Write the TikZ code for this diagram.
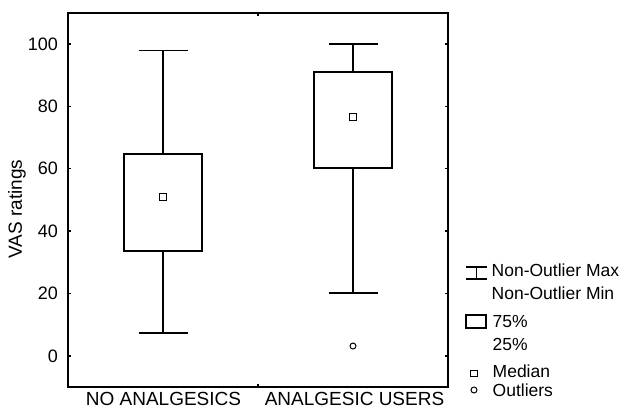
\documentclass[tikz,border=0pt]{standalone}
\usepackage{fontspec}
\setmainfont{Liberation Sans}

\begin{document}
\begin{tikzpicture}[x=1pt,y=1pt,
            frame/.style={line width=1.8pt},
            boxline/.style={line width=1.4pt},
            tick/.style={font=\fontsize{18}{20}\selectfont,anchor=east,inner sep=0pt},
            cat/.style={font=\fontsize{19}{22}\selectfont,anchor=base,inner sep=0pt},
            leg/.style={font=\fontsize{17.5}{20}\selectfont,anchor=base west,inner sep=0pt},
            med/.style={draw,rectangle,line width=1.2pt,minimum size=6.5pt,inner sep=0pt},
            outl/.style={draw,circle,line width=1pt,minimum size=6pt,inner sep=0pt}]
            \useasboundingbox (0,0) rectangle (622,410);

            % the plot, in data units
            \begin{scope}[shift={(-27,54)},x=190pt,y=3.12pt]
            \draw[frame] (0.5,-10) rectangle (2.5,110);
            \foreach \v in {0,20,...,100} {
                \draw[boxline] (0.5,\v) -- ++(3pt,0);
                \draw[boxline] (2.5,\v) -- ++(-3pt,0);
                \node[tick] (tick\v) at ([xshift=-10pt]0.5,\v) {\v};
            }
            \draw[boxline] (1.5,110) -- ++(0,-3pt);
            \draw[boxline] (1.5,-10) -- ++(0,3pt);

            % no analgesics
            \coordinate (noLow)  at (1,7.4);
            \coordinate (noHigh) at (1,98);
            \coordinate (noQ1)   at (0.795,33.6);
            \coordinate (noQ3)   at (1.205,64.7);
            \draw[boxline] (noQ1) rectangle (noQ3);
            \draw[boxline] (noQ1 -| noLow) -- (noLow);
            \draw[boxline] (noQ3 -| noHigh) -- (noHigh);
            \draw[boxline] ([xshift=-24.5pt]noLow) -- ([xshift=24.5pt]noLow);
            \draw[boxline] ([xshift=-24.5pt]noHigh) -- ([xshift=24.5pt]noHigh);
            \node[med] (noMed) at (1,51) {};

            % analgesic users
            \coordinate (usLow)  at (2,20.2);
            \coordinate (usHigh) at (2,100);
            \coordinate (usQ1)   at (1.795,60.3);
            \coordinate (usQ3)   at (2.205,91);
            \draw[boxline] (usQ1) rectangle (usQ3);
            \draw[boxline] (usQ1 -| usLow) -- (usLow);
            \draw[boxline] (usQ3 -| usHigh) -- (usHigh);
            \draw[boxline] ([xshift=-24.5pt]usLow) -- ([xshift=24.5pt]usLow);
            \draw[boxline] ([xshift=-24.5pt]usHigh) -- ([xshift=24.5pt]usHigh);
            \node[med] (usMed) at (2,76.6) {};
            \node[outl] (usOut) at (2,3.2) {};
            \end{scope}

            \node[cat] (noLab) at (163.5,4) {NO ANALGESICS};
            \node[cat] (usLab) at (354.5,4) {ANALGESIC USERS};
            \node[font=\fontsize{19}{22}\selectfont,rotate=90,inner sep=0pt] (yLab) at (17,201) {VAS ratings};

            % legend
            \draw[boxline] (466,143) -- (487,143) (476.5,143) -- (476.5,131) (466,131) -- (487,131);
            \node[leg] (legMax) at (491.5,133) {Non-Outlier Max};
            \node[leg] (legMin) at (491.5,110) {Non-Outlier Min};
            \draw[boxline] (466,82) rectangle (486,95);
            \node[leg] (legUp)  at (492.5,82) {75\%};
            \node[leg] (legLo)  at (492.5,59) {25\%};
            \node[med] (legMedBox) at (474,36.5) {};
            \node[leg] (legMed) at (492.5,32) {Median};
            \node[outl] (legOutC) at (474,20) {};
            \node[leg] (legOut) at (492.5,13) {Outliers};
        \end{tikzpicture}
\end{document}
